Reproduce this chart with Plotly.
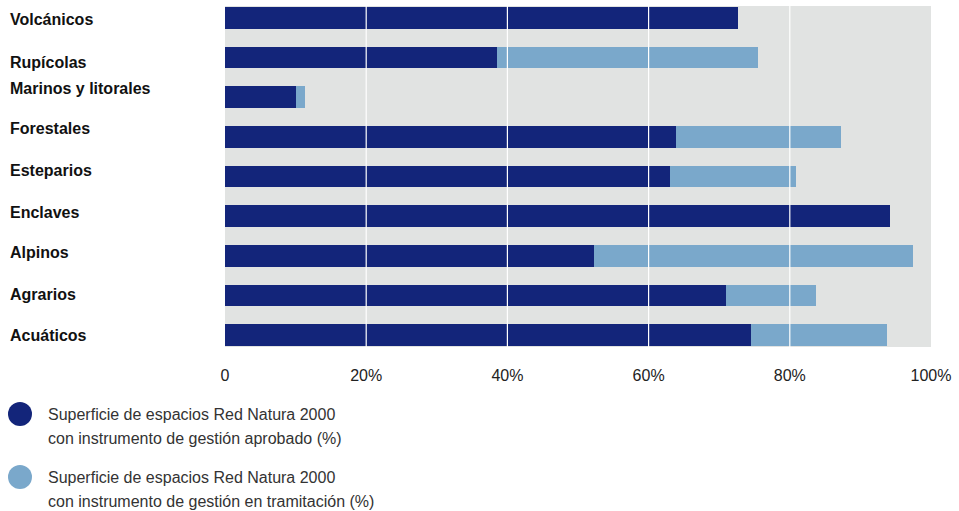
"""
Red Natura 2000: share of area with an approved / in-progress management plan,
by habitat type. Horizontal stacked bars with a custom legend below.
"""

import plotly.graph_objects as go

# --- data -------------------------------------------------------------------
categories = [
    "Volcánicos", "Rupícolas", "Marinos y litorales", "Forestales",
    "Esteparios", "Enclaves", "Alpinos", "Agrarios", "Acuáticos",
]
aprobado = [72.7, 38.5, 10.1, 63.9, 63.0, 94.2, 52.3, 71.0, 74.5]
tramitacion = [0.0, 37.0, 1.2, 23.4, 17.9, 0.0, 45.2, 12.7, 19.3]

tick_values = [0, 20, 40, 60, 80, 100]
tick_labels = ["0", "20%", "40%", "60%", "80%", "100%"]

series_names = [
    ["Superficie de espacios Red Natura 2000",
     "con instrumento de gestión aprobado (%)"],
    ["Superficie de espacios Red Natura 2000",
     "con instrumento de gestión en tramitación (%)"],
]

# --- style ------------------------------------------------------------------
DARK = "#13257a"
LIGHT = "#7aa8cb"
BG = "#e1e3e2"
FONT = "Liberation Sans"

W, H = 959, 511
M_L, M_R, M_T, M_B = 225, 28, 6, 164
PLOT_W = W - M_L - M_R
PLOT_H = H - M_T - M_B

# small vertical nudges of the category labels (pixels, + = up)
label_shift = [-2, -5, 9, 8, 6, 4, 3, 1, 0]


def px_x(px):
    return (px - M_L) / PLOT_W


def px_y(py):
    return (H - M_B - py) / PLOT_H


fig = go.Figure()
for vals, color, name in [(aprobado, DARK, series_names[0]),
                          (tramitacion, LIGHT, series_names[1])]:
    fig.add_trace(go.Bar(
        y=categories,
        x=vals,
        orientation="h",
        marker=dict(color=color, line=dict(width=0)),
        width=0.55,
        name=" ".join(name),
        showlegend=False,
        hovertemplate="%{y}: %{x:.1f}%<extra></extra>",
    ))

# category labels, left aligned at the page edge
annotations = []
for cat, dy in zip(categories, label_shift):
    annotations.append(dict(
        text=f"<b>{cat}</b>", x=px_x(8), xref="paper", y=cat, yref="y",
        xanchor="left", yanchor="middle", showarrow=False, yshift=dy,
        font=dict(family=FONT, size=16, color="#111111"),
    ))

# legend: circles + two text lines each
shapes = []
legend_rows = [(414, DARK), (477, LIGHT)]
for (cy, color), lines in zip(legend_rows, series_names):
    shapes.append(dict(
        type="circle", xref="paper", yref="paper",
        xsizemode="pixel", ysizemode="pixel",
        xanchor=px_x(20), yanchor=px_y(cy),
        x0=-12, x1=12, y0=-12, y1=12,
        fillcolor=color, line=dict(width=0),
    ))
    for i, line in enumerate(lines):
        annotations.append(dict(
            text=line, x=px_x(46), xref="paper", y=px_y(cy + 24 * i),
            yref="paper", xanchor="left", yanchor="middle", showarrow=False,
            font=dict(family=FONT, size=16, color="#333333"),
        ))

# white gridlines drawn over the bars
for v in tick_values[1:-1]:
    shapes.append(dict(
        type="line", xref="x", yref="paper", x0=v, x1=v, y0=0, y1=1,
        line=dict(color="white", width=1.2), layer="above",
    ))

fig.update_layout(
    width=W,
    height=H,
    barmode="stack",
    bargap=0.45,
    margin=dict(l=M_L, r=M_R, t=M_T, b=M_B),
    paper_bgcolor="white",
    plot_bgcolor=BG,
    font=dict(family=FONT, size=16, color="#222222"),
    showlegend=False,
    xaxis=dict(
        range=[0, 100],
        tickvals=tick_values,
        ticktext=tick_labels,
        showgrid=False,
        zeroline=False,
        showline=False,
        ticks="",
        ticklabelstandoff=17,
        tickfont=dict(family=FONT, size=16, color="#222222"),
        fixedrange=True,
    ),
    yaxis=dict(
        categoryorder="array",
        categoryarray=categories,
        autorange=False,
        range=[8.3, -0.3],
        showticklabels=False,
        showgrid=False,
        zeroline=False,
        ticks="",
        fixedrange=True,
    ),
    shapes=shapes,
    annotations=annotations,
)

# drop the default page margin so the figure fills the window exactly
fig.write_html(
    "out.html",
    config={"displayModeBar": False},
    post_script="document.body.style.margin='0';"
                "document.body.style.overflow='hidden';",
)
